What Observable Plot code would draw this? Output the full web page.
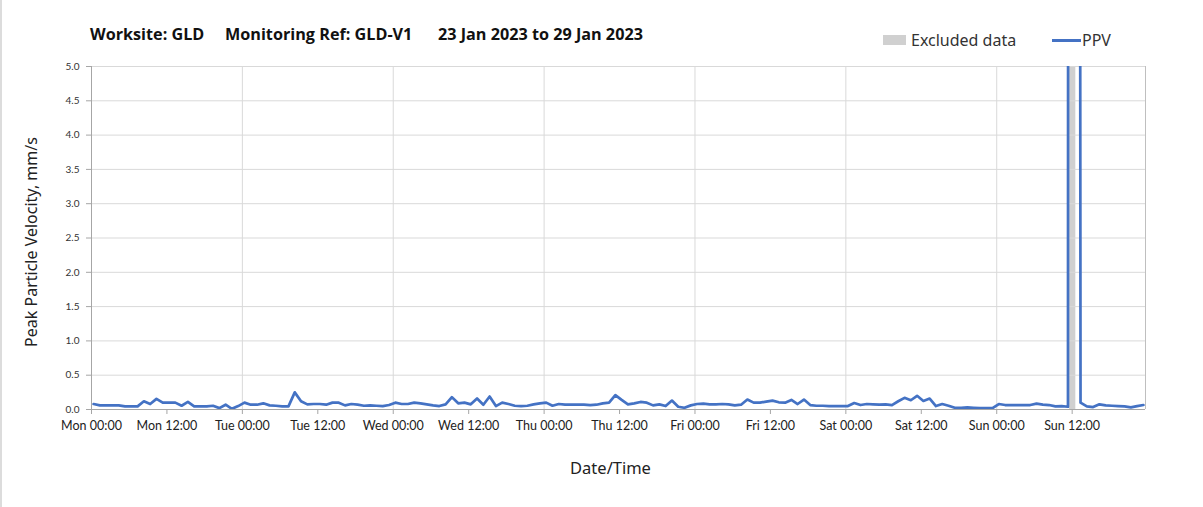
<!DOCTYPE html>
<html><head><meta charset="utf-8">
<script src="https://cdn.jsdelivr.net/npm/d3@7"></script>
<script src="https://cdn.jsdelivr.net/npm/@observablehq/plot@0.6"></script>
<style>
body{margin:0;background:#fff;}
#wrap{position:relative;width:1203px;height:507px;overflow:hidden;font-family:Lato,sans-serif;box-sizing:border-box;border-left:2px solid #dcdcdc;}
#chart{position:absolute;left:-2px;top:0;}
.t{position:absolute;top:23px;font-weight:bold;font-size:16.2px;color:#111;white-space:nowrap;font-family:"Open Sans",sans-serif;}
.lg{position:absolute;top:29px;font-size:16px;color:#333;font-family:"Noto Sans",sans-serif;white-space:nowrap;}
#ylab{position:absolute;left:29px;top:242px;transform:translate(-50%,-50%) rotate(-90deg);font-size:16px;color:#222;font-family:"Noto Sans",sans-serif;white-space:nowrap;}
</style></head>
<body>
<div id="wrap">
  <div id="chart"></div>
  <div class="t" id="t1" style="left:88px"></div>
  <div class="t" id="t2" style="left:223px"></div>
  <div class="t" id="t3" style="left:436px"></div>
  <div style="position:absolute;left:881px;top:35px;width:23px;height:10px;background:#d0d0d0"></div>
  <div class="lg" id="lg1" style="left:909px"></div>
  <div style="position:absolute;left:1050px;top:39px;width:29px;height:2.5px;background:#4472C4"></div>
  <div class="lg" id="lg2" style="left:1080px"></div>
  <div id="ylab"></div>
</div>
<script>
// ---- data ----
const titleParts = ["Worksite: GLD", "Monitoring Ref: GLD-V1", "23 Jan 2023 to 29 Jan 2023"];
const legendLabels = ["Excluded data", "PPV"];
const yLabel = "Peak Particle Velocity, mm/s";
const xLabel = "Date/Time";
const yTicks = [0, 0.5, 1, 1.5, 2, 2.5, 3, 3.5, 4, 4.5, 5];
const firstReading = "2023-01-23T00:20Z"; // hourly readings
const mon = [0.08,0.06,0.06,0.06,0.06,0.045,0.045,0.045,0.12,0.08,0.155,0.1,0.1,0.1,0.055,0.11,0.045,0.045,0.045,0.055,0.02,0.07,0.01,0.05];
const tue = [0.1,0.07,0.07,0.09,0.06,0.055,0.045,0.045,0.25,0.12,0.075,0.08,0.08,0.07,0.1,0.1,0.06,0.08,0.07,0.055,0.06,0.055,0.05,0.065];
const wed = [0.1,0.08,0.08,0.1,0.09,0.075,0.06,0.05,0.075,0.18,0.09,0.1,0.075,0.16,0.07,0.19,0.05,0.1,0.08,0.055,0.05,0.055,0.075,0.09];
const thu = [0.1,0.055,0.08,0.07,0.07,0.07,0.07,0.065,0.07,0.09,0.1,0.21,0.14,0.075,0.09,0.11,0.1,0.06,0.075,0.05,0.13,0.04,0.025,0.06];
const fri = [0.08,0.085,0.075,0.075,0.08,0.075,0.06,0.07,0.145,0.1,0.1,0.115,0.13,0.105,0.1,0.14,0.08,0.145,0.065,0.055,0.055,0.05,0.05,0.05];
const sat = [0.05,0.095,0.065,0.08,0.075,0.07,0.075,0.065,0.12,0.17,0.135,0.2,0.125,0.16,0.05,0.08,0.055,0.025,0.025,0.03,0.025,0.02,0.02,0.02];
const sun = [0.08,0.065,0.065,0.065,0.065,0.065,0.085,0.07,0.065,0.045,0.05,0.04,null,0.1,0.045,0.035,0.075,0.06,0.055,0.05,0.045,0.03,0.05,0.065];
// off-scale readings inside the excluded window (top clipped)
const spikeTimes = ["2023-01-29T11:30Z", "2023-01-29T12:50Z"];
const spikeValues = [50, 50];
const excludedStart = ["2023-01-29T11:35Z"];
const excludedEnd = ["2023-01-29T12:35Z"];
const xStart = "2023-01-23T00:00Z";
const xEnd = "2023-01-29T23:40Z";

// ---- build ----
const t0 = new Date(firstReading).getTime();
const rows = [...mon, ...tue, ...wed, ...thu, ...fri, ...sat, ...sun]
  .map((v, i) => ({time: new Date(t0 + i * 3600e3), value: v}))
  .filter(d => d.value != null)
  .concat(spikeTimes.map((t, i) => ({time: new Date(t), value: spikeValues[i]})))
  .sort((a, b) => a.time - b.time);
const excluded = excludedStart.map((s, i) => ({start: new Date(s), end: new Date(excludedEnd[i])}));
const x0 = new Date(xStart), x1 = new Date(xEnd);
const halfDayTicks = d3.utcHour.every(12).range(x0, x1);
const dayTicks = d3.utcDay.range(x0, x1);
const fmt = d3.utcFormat("%a %H:%M");

document.getElementById("t1").textContent = titleParts[0];
document.getElementById("t2").textContent = titleParts[1];
document.getElementById("t3").textContent = titleParts[2];
document.getElementById("lg1").textContent = legendLabels[0];
document.getElementById("lg2").textContent = legendLabels[1];
document.getElementById("ylab").textContent = yLabel;

const grid = "#d9d9d9", axisC = "#a6a6a6";
const chart = Plot.plot({
  width: 1203, height: 507,
  marginLeft: 91, marginRight: 58, marginTop: 66, marginBottom: 98,
  x: {type: "utc", domain: [x0, x1]},
  y: {domain: [0, 5]},
  style: {fontFamily: "Lato, sans-serif", background: "transparent", color: "#222"},
  marks: [
    Plot.rect(excluded, {x1: "start", x2: "end", y1: 0, y2: 5, fill: "#d0d0d0"}),
    Plot.gridY({ticks: yTicks, stroke: grid, strokeOpacity: 1}),
    Plot.gridX({ticks: dayTicks, stroke: grid, strokeOpacity: 1}),
    Plot.ruleX([x1], {stroke: "#bfbfbf"}),
    Plot.ruleX([x0], {stroke: axisC}),
    Plot.ruleY([0], {stroke: axisC}),
    Plot.axisY({ticks: yTicks, tickFormat: d => d.toFixed(1), tickSize: 5, tickPadding: 7, fontSize: 10, stroke: axisC, fill: "#333", label: null}),
    Plot.axisX({ticks: halfDayTicks, tickFormat: fmt, tickSize: 5, tickPadding: 7, fontSize: 12.5, stroke: axisC, fill: "#222", label: null}),
    Plot.line(rows, {x: "time", y: "value", stroke: "#4472C4", strokeWidth: 2.7, strokeLinejoin: "round", clip: true}),
    Plot.text([xLabel], {frameAnchor: "bottom", dx: -8, dy: 64, fontSize: 16.5, fill: "#222", fontFamily: "'Noto Sans', sans-serif"})
  ]
});
document.getElementById("chart").appendChild(chart);
</script>
</body></html>
